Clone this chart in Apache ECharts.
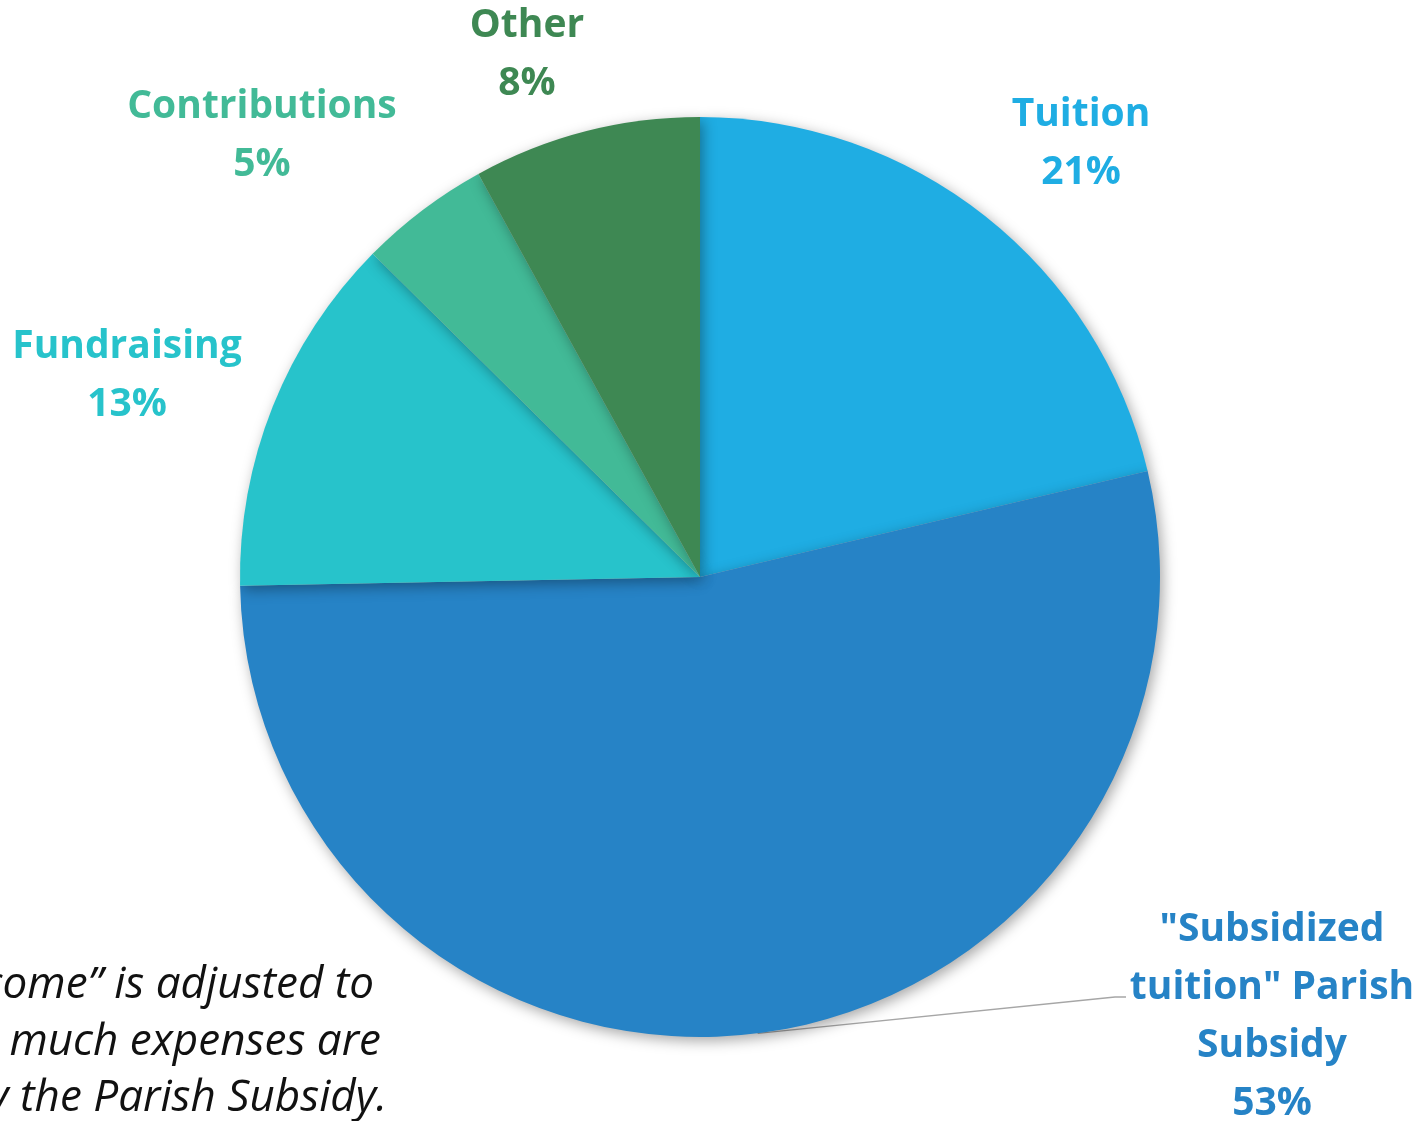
<!DOCTYPE html>
<html>
<head>
<meta charset="utf-8">
<script src="https://cdn.jsdelivr.net/npm/echarts@6/dist/echarts.min.js"></script>
<style>
html,body{margin:0;padding:0;background:#fff;}
#chart{width:1426px;height:1121px;}
</style>
</head>
<body>
<div id="chart"></div>
<script>
// Data
const categories = ['Tuition', '"Subsidized\ntuition" Parish\nSubsidy', 'Fundraising', 'Contributions', 'Other'];
const values = [21.3, 53.4, 12.7, 4.6, 8.0];
const noteLines = ['\u201CIncome\u201D is adjusted to', 'show how much expenses are', 'covered by the Parish Subsidy.'];

// Styling (not data)
const colors = ['#1FADE3', '#2683C6', '#27C3CB', '#42BA97', '#3E8853'];
const labelPos = [[1081, 144], [1272, 1017], [127, 376], [262, 136], [527, 55]];
const notePos = [[374, 985], [381, 1042], [387, 1098]];
const leaderBend = [[1115, 997], [1126, 997]];
const FONT = '"Open Sans", Lato, sans-serif';

const chart = echarts.init(document.getElementById('chart'), null, {renderer: 'canvas'});

const data = categories.map((c, i) => ({
  name: c,
  value: values[i],
  itemStyle: {color: colors[i]},
  label: {color: colors[i]},
  labelLine: {show: i === 1}
}));

chart.setOption({
  animation: false,
  series: [{
    type: 'pie',
    center: [700, 577],
    radius: 460,
    startAngle: 90,
    clockwise: true,
    avoidLabelOverlap: false,
    itemStyle: {
      borderWidth: 0,
      shadowBlur: 14,
      shadowColor: 'rgba(0,0,0,0.35)',
      shadowOffsetX: 3,
      shadowOffsetY: 4
    },
    label: {
      show: true,
      position: 'outside',
      fontFamily: FONT,
      fontWeight: 'bold',
      fontSize: 39,
      lineHeight: 58,
      align: 'center',
      formatter: p => p.name + '\n' + Math.round(p.percent) + '%'
    },
    labelLine: {
      show: false,
      length: 20,
      length2: 10,
      lineStyle: {color: '#A6A6A6', width: 1.5}
    },
    labelLayout: p => {
      const o = {
        x: labelPos[p.dataIndex][0],
        y: labelPos[p.dataIndex][1],
        align: 'center',
        verticalAlign: 'middle'
      };
      if (p.dataIndex === 1 && p.labelLinePoints && p.labelLinePoints.length) {
        o.labelLinePoints = [p.labelLinePoints[0], leaderBend[0], leaderBend[1]];
      }
      return o;
    },
    data: data
  }],
  graphic: noteLines.map((t, i) => ({
    type: 'text',
    x: notePos[i][0],
    y: notePos[i][1],
    style: {
      text: t,
      fontFamily: FONT,
      fontStyle: 'italic',
      fontSize: 44,
      fill: '#111',
      textAlign: 'right',
      textVerticalAlign: 'middle'
    }
  }))
});
</script>
</body>
</html>
